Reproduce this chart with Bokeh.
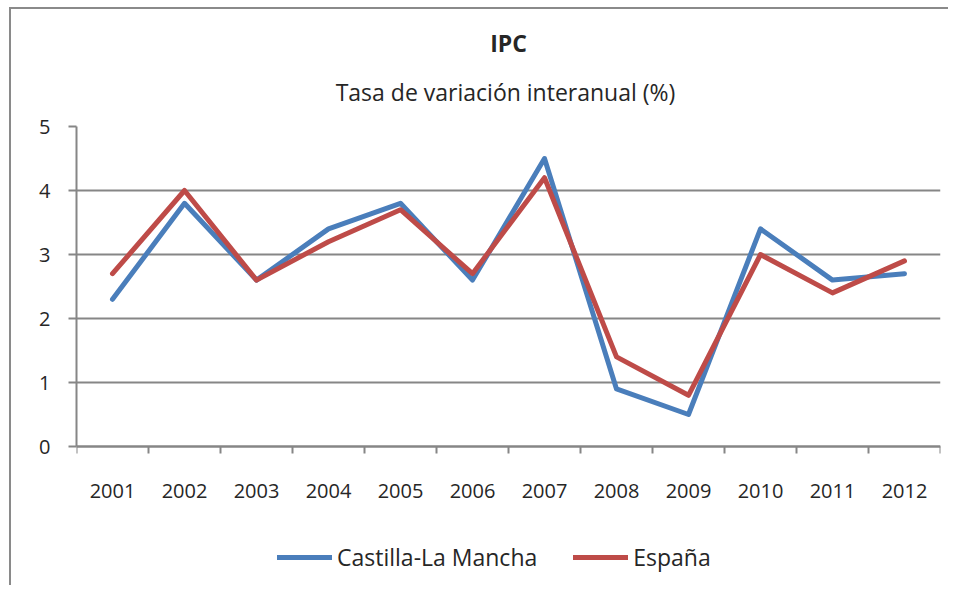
from bokeh.plotting import figure
from bokeh.models import (Range1d, FixedTicker, LinearAxis, Title, Legend)
from bokeh.embed import file_html
from bokeh.resources import INLINE

years = [2001, 2002, 2003, 2004, 2005, 2006, 2007, 2008, 2009, 2010, 2011, 2012]
clm = [2.3, 3.8, 2.6, 3.4, 3.8, 2.6, 4.5, 0.9, 0.5, 3.4, 2.6, 2.7]
espana = [2.7, 4.0, 2.6, 3.2, 3.7, 2.7, 4.2, 1.4, 0.8, 3.0, 2.4, 2.9]
y_ticks = [0, 1, 2, 3, 4, 5]
series_names = ["Castilla-La Mancha", "España"]
title_text = "IPC"
subtitle_text = "Tasa  de variación interanual (%)"

FONT = "Open Sans"
GRAY = "#868686"
BLUE = "#4A7EBB"
RED = "#BE4B48"
TXT = "#262626"

# layout: plot area for 0..5 is 320px tall; the frame extends below to hold the legend
AXIS_H = 320
FRAME_H = 459
y_lo = y_ticks[-1] - (y_ticks[-1] - y_ticks[0]) * FRAME_H / AXIS_H

p = figure(frame_width=864, frame_height=FRAME_H, output_backend="svg", toolbar_location=None,
           x_range=Range1d(years[0] - 0.5, years[-1] + 0.5),
           y_range=Range1d(y_lo, y_ticks[-1]),
           min_border_left=65, min_border_right=8,
           min_border_top=117, min_border_bottom=0)
p.styles = {"border-left": "2px solid #8a8a8a", "border-top": "2px solid #8a8a8a",
            "margin-left": "9px", "margin-top": "7px"}
p.outline_line_color = None
p.background_fill_color = "white"

# titles
p.add_layout(Title(text=subtitle_text, align="center", vertical_align="top", text_font=FONT,
                   text_font_size="23px", text_font_style="normal",
                   text_color=TXT, standoff=34), "above")
p.add_layout(Title(text=title_text, align="center", text_font=FONT,
                   text_font_size="23px", text_font_style="bold",
                   text_color=TXT, standoff=0), "above")

# y axis
p.yaxis.ticker = FixedTicker(ticks=y_ticks)
p.yaxis.bounds = (y_ticks[0], y_ticks[-1])
p.yaxis.axis_line_color = GRAY
p.yaxis.axis_line_width = 2
p.yaxis.major_tick_line_color = GRAY
p.yaxis.major_tick_line_width = 2
p.yaxis.major_tick_out = 8
p.yaxis.major_tick_in = 0
p.yaxis.minor_tick_line_color = None
p.yaxis.major_label_text_font = FONT
p.yaxis.major_label_text_font_size = "20px"
p.yaxis.major_label_text_color = TXT
p.yaxis.major_label_standoff = 18

# x axis: tick marks between categories, drawn at y = 0
boundaries = [y - 0.5 for y in years] + [years[-1] + 0.5]
xa = p.xaxis[0]
xa.fixed_location = 0
xa.ticker = FixedTicker(ticks=boundaries)
xa.axis_line_color = GRAY
xa.axis_line_width = 2
xa.major_tick_line_color = GRAY
xa.major_tick_line_width = 2
xa.major_tick_out = 7
xa.major_tick_in = 0
xa.minor_tick_line_color = None
xa.major_label_text_color = None
xa.major_label_text_font_size = "1px"
xa.major_label_standoff = 0

# x axis labels at category centers
xl = LinearAxis(ticker=FixedTicker(ticks=years), fixed_location=0)
xl.axis_line_color = None
xl.major_tick_line_color = None
xl.major_tick_out = 0
xl.minor_tick_out = 0
xl.minor_tick_line_color = None
xl.major_label_text_font = FONT
xl.major_label_text_font_size = "20px"
xl.major_label_text_color = TXT
xl.major_label_standoff = 37
p.add_layout(xl, "below")

p.xgrid.grid_line_color = None
p.ygrid.ticker = FixedTicker(ticks=y_ticks)
p.ygrid.grid_line_color = GRAY
p.ygrid.grid_line_width = 2

r1 = p.line(years, clm, line_color=BLUE, line_width=5, line_join="round", line_cap="round")
r2 = p.line(years, espana, line_color=RED, line_width=5, line_join="round", line_cap="round")

legend = Legend(items=[(series_names[0], [r1]), (series_names[1], [r2])],
                orientation="horizontal", location=(201, 12),
                label_text_font=FONT, label_text_font_size="23px",
                label_text_color=TXT, label_standoff=5,
                glyph_width=55, glyph_height=24, label_height=24, spacing=36,
                border_line_color=None, background_fill_alpha=0,
                margin=0, padding=0)
p.add_layout(legend, "center")

open("out.html", "w").write(file_html(p, INLINE))
